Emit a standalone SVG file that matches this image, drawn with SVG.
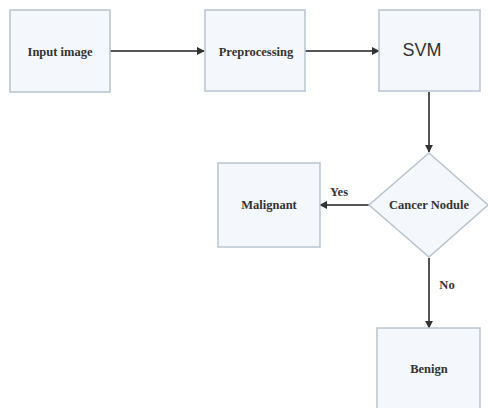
<svg xmlns="http://www.w3.org/2000/svg" width="488" height="408" viewBox="0 0 488 408">
<style>
.box{fill:#f4f7fb;stroke:#b9c3d0;stroke-width:1.5}
.lbl{font-family:"Liberation Serif",serif;font-weight:bold;font-size:12.5px;fill:#333;text-anchor:middle}
.edge{stroke:#555;stroke-width:2;fill:none;marker-end:url(#ah)}
</style>
<defs>
<marker id="ah" viewBox="0 0 10 10" refX="9" refY="5" markerWidth="4" markerHeight="4" orient="auto"><path d="M0,0 L10,5 L0,10 z" fill="#333"/></marker>
</defs>
<rect width="488" height="408" fill="#fff"/>
<g id="connectors">
<line class="edge" x1="110" y1="51" x2="204" y2="51"/>
<line class="edge" x1="305" y1="51" x2="379" y2="51"/>
<line class="edge" x1="429" y1="92" x2="429" y2="152"/>
<line class="edge" x1="369" y1="205" x2="320" y2="205"/>
<line class="edge" x1="429" y1="258" x2="429" y2="328"/>
<text class="lbl" x="339" y="196">Yes</text>
<text class="lbl" x="447" y="289">No</text>
</g>
<g id="input"><rect class="box" x="10" y="10" width="100" height="82"/><text class="lbl" x="60" y="56">Input image</text></g>
<g id="preprocessing"><rect class="box" x="205" y="10" width="100" height="81"/><text class="lbl" x="256" y="56">Preprocessing</text></g>
<g id="svm"><rect class="box" x="379" y="10" width="101" height="81"/><text x="422" y="56" font-family="Liberation Sans,sans-serif" font-size="18" fill="#333" text-anchor="middle">SVM</text></g>
<g id="cancer"><polygon class="box" points="429,153 488,205 429,257 369,205"/><text class="lbl" x="429" y="209">Cancer Nodule</text></g>
<g id="malignant"><rect class="box" x="218" y="163" width="102" height="84"/><text class="lbl" x="269" y="209">Malignant</text></g>
<g id="benign"><rect class="box" x="377" y="328" width="103" height="82"/><text class="lbl" x="429" y="373">Benign</text></g>
</svg>
